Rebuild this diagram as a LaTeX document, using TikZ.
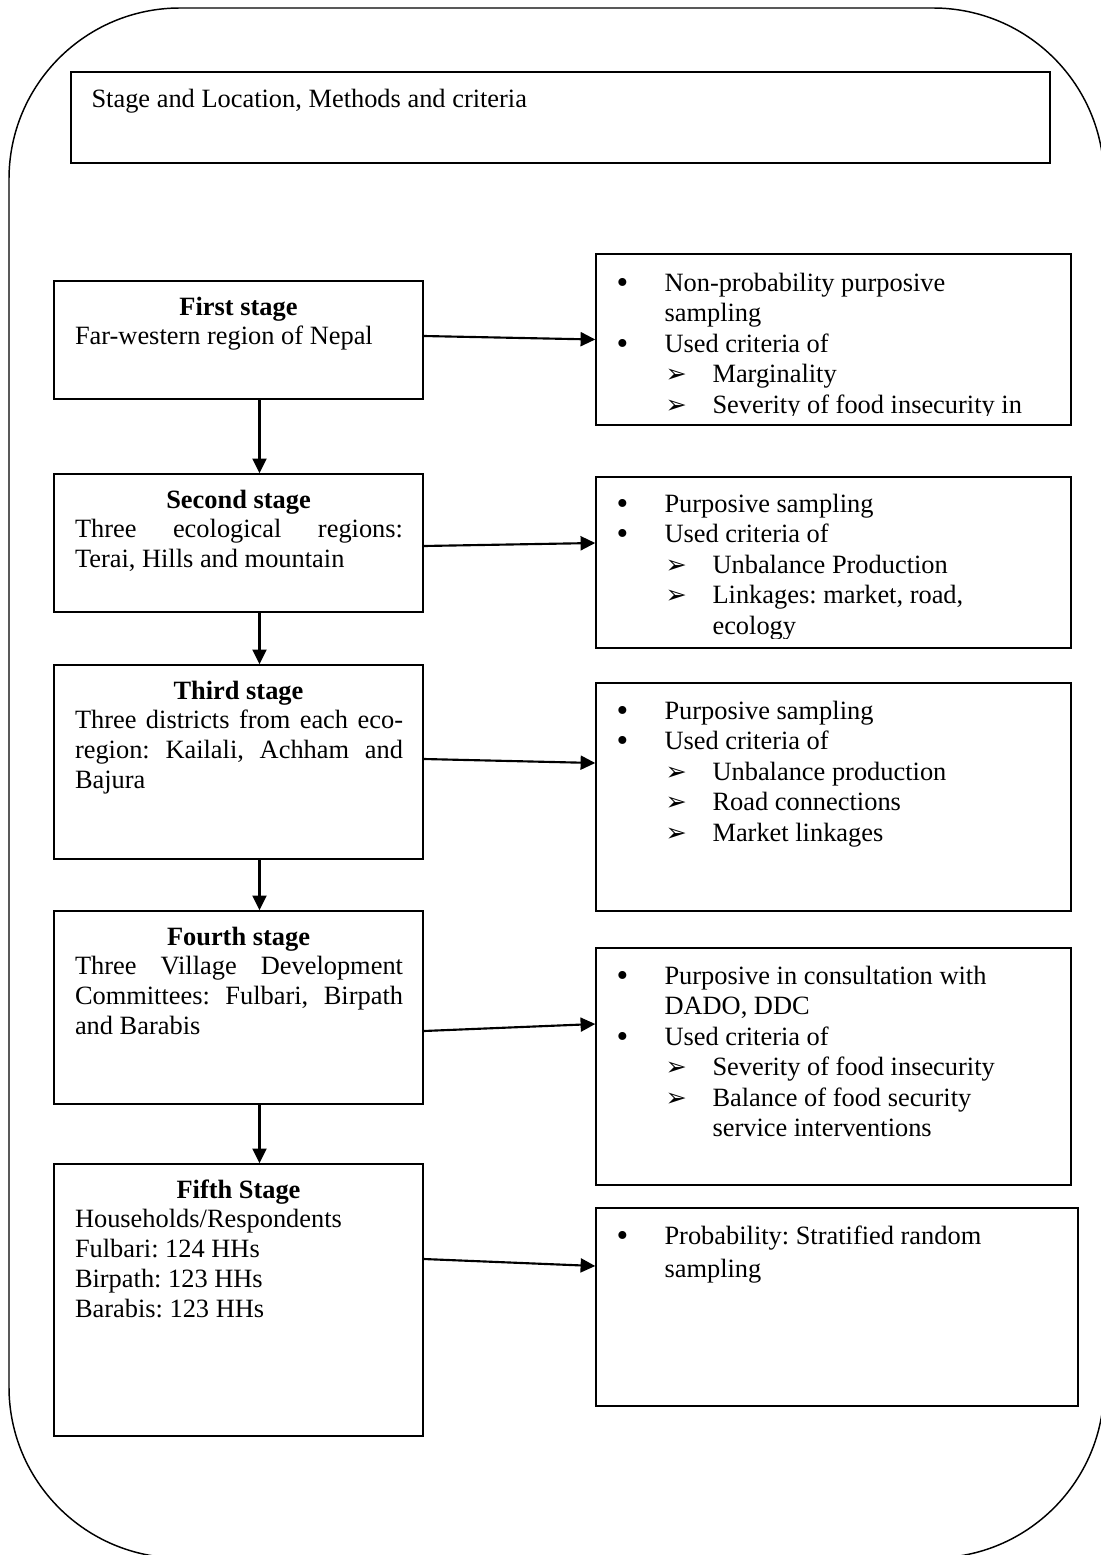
\documentclass[tikz,border=0pt]{standalone}
\usepackage{fontspec}
\setmainfont{Liberation Serif}
\newfontfamily\dingfont{DejaVu Sans}
\usetikzlibrary{arrows.meta,calc}
\frenchspacing

\newcommand{\pointitem}[1]{\makebox[36pt][l]{\raisebox{-1.4pt}{\fontsize{25}{22}\selectfont\textbullet}}#1}
\newcommand{\pointcont}[1]{\hspace*{36pt}#1}
\newcommand{\arrowitem}[1]{\hspace*{36.75pt}\makebox[35.25pt][l]{\dingfont\fontsize{19}{19}\selectfont ➢}#1}
\newcommand{\arrowcont}[1]{\hspace*{72pt}#1}

\tikzset{
  stagebox/.style={draw, line width=1.1pt, minimum width=276.75pt, inner sep=0pt},
  methbox/.style={draw, line width=1.1pt, minimum width=356.25pt, inner sep=0pt},
  stagetitle/.style={anchor=base, inner sep=0pt, font=\fontsize{19.8}{22.5}\selectfont\bfseries},
  stagetext/.style={anchor=base, inner sep=0pt, text width=246pt, align=justify, font=\fontsize{19.8}{22.5}\selectfont},
  listtext/.style={anchor=base west, inner sep=0pt, text width=340pt, align=flush left, font=\fontsize{19.8}{22.875}\selectfont},
  flowarrow/.style={line width=1.6pt, -{Triangle[length=11pt,width=10.5pt]}},
}

\begin{document}
\begin{tikzpicture}[x=0.75pt,y=0.75pt,yscale=-1,xscale=1]
\useasboundingbox (0,0) rectangle (1100,1555);

%Outer frame
\draw [line width=1.1pt, rounded corners=128.25pt] (9,8) rectangle (1104,1558);

%Header
\node [draw, line width=1.1pt, minimum width=734.25pt, minimum height=68.25pt, inner sep=0pt] (head) at (560.5,117.5) {};
\node [listtext] (headtxt) at ($(head.north west)+(21,36)$) {Stage and Location, Methods and criteria};

%Stage boxes
\node [stagebox, minimum height=88.5pt] (s1) at (238.5,340) {};
\node [stagebox, minimum height=103.5pt] (s2) at (238.5,543) {};
\node [stagebox, minimum height=145.5pt] (s3) at (238.5,762) {};
\node [stagebox, minimum height=144.75pt] (s4) at (238.5,1007.5) {};
\node [stagebox, minimum height=204pt] (s5) at (238.5,1300) {};

% Stage texts
\node [stagetitle] (s1t) at ($(s1.north)+(0,35.5)$) {First stage};
\node [stagetext] (s1b) at ($(s1.north)+(0.5,64.5)$) {Far-western region of Nepal};
\node [stagetitle] (s2t) at ($(s2.north)+(0,35.5)$) {Second stage};
\node [stagetext] (s2b) at ($(s2.north)+(0.5,64.5)$) {Three ecological regions:\linebreak Terai, Hills and mountain};
\node [stagetitle] (s3t) at ($(s3.north)+(0,35.5)$) {Third stage};
\node [stagetext] (s3b) at ($(s3.north)+(0.5,64.5)$) {Three districts from each eco-\linebreak region: Kailali, Achham and\linebreak Bajura};
\node [stagetitle] (s4t) at ($(s4.north)+(0,35.5)$) {Fourth stage};
\node [stagetext] (s4b) at ($(s4.north)+(0.5,64.5)$) {Three Village Development\linebreak Committees: Fulbari, Birpath\linebreak and Barabis};
\node [stagetitle] (s5t) at ($(s5.north)+(0,35.5)$) {Fifth Stage};
\node [stagetext] (s5b) at ($(s5.north)+(0.5,64.5)$) {Households/Respondents\\Fulbari: 124 HHs\\Birpath: 123 HHs\\Barabis: 123 HHs};

%Method boxes
\node [methbox, minimum height=128.25pt] (m1) at (833.5,339.5) {};
\node [methbox, minimum height=128.25pt] (m2) at (833.5,562.5) {};
\node [methbox, minimum height=171pt] (m3) at (833.5,797) {};
\node [methbox, minimum height=177.75pt] (m4) at (833.5,1066.5) {};
\node [methbox, minimum height=148.5pt, minimum width=361.5pt] (m5) at (837,1307) {};

% Method texts
\begin{scope}
\clip (m1.north west) rectangle ($(m1.south east)+(0,-10)$);
\node [listtext] (m1t) at ($(m1.north west)+(21,38)$) {\pointitem{Non-probability purposive}\\\pointcont{sampling}\\\pointitem{Used criteria of}\\\arrowitem{Marginality}\\\arrowitem{Severity of food insecurity in}};
\end{scope}
\begin{scope}
\clip (m2.north west) rectangle ($(m2.south east)+(0,-10)$);
\node [listtext] (m2t) at ($(m2.north west)+(21,36)$) {\pointitem{Purposive sampling}\\\pointitem{Used criteria of}\\\arrowitem{Unbalance Production}\\\arrowitem{Linkages: market, road,}\\\arrowcont{ecology}};
\end{scope}
\node [listtext] (m3t) at ($(m3.north west)+(21,37)$) {\pointitem{Purposive sampling}\\\pointitem{Used criteria of}\\\arrowitem{Unbalance production}\\\arrowitem{Road connections}\\\arrowitem{Market linkages}};
\node [listtext] (m4t) at ($(m4.north west)+(21,37)$) {\pointitem{Purposive in consultation with}\\\pointcont{DADO, DDC}\\\pointitem{Used criteria of}\\\arrowitem{Severity of food insecurity}\\\arrowitem{Balance of food security}\\\arrowcont{service interventions}};
\node [listtext] (m5t) at ($(m5.north west)+(21,37)$) {\pointitem{Probability: Stratified random}\\[1.9pt]\pointcont{sampling}};

%Arrows down
\draw [flowarrow] ($(s1.south)+(21,0)$) -- ($(s2.north)+(21,0)$);
\draw [flowarrow] ($(s2.south)+(21,0)$) -- ($(s3.north)+(21,0)$);
\draw [flowarrow] ($(s3.south)+(21,0)$) -- ($(s4.north)+(21,0)$);
\draw [flowarrow] ($(s4.south)+(21,0)$) -- ($(s5.north)+(21,0)$);

%Arrows across
\draw [flowarrow] ($(s1.east)+(0,-4)$) -- (m1.west);
\draw [flowarrow] ($(s2.east)+(0,3)$) -- ($(m2.west)+(0,-19.5)$);
\draw [flowarrow] ($(s3.east)+(0,-3)$) -- ($(m3.west)+(0,-34)$);
\draw [flowarrow] ($(s4.east)+(0,23.5)$) -- ($(m4.west)+(0,-42.5)$);
\draw [flowarrow] ($(s5.east)+(0,-41)$) -- ($(m5.west)+(0,-41)$);

\end{tikzpicture}
\end{document}
